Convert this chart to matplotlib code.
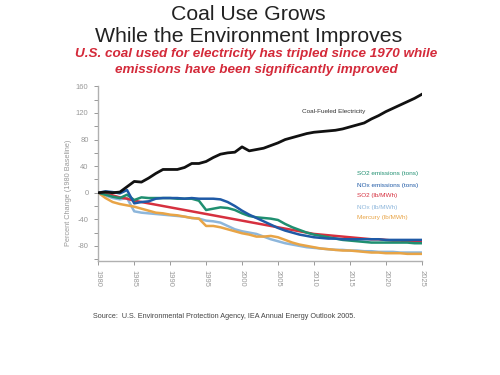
import matplotlib
matplotlib.use("Agg")
import matplotlib.pyplot as plt
from matplotlib.ticker import MultipleLocator, FuncFormatter

plt.rcParams['font.family'] = ['Liberation Sans', 'DejaVu Sans']

years = list(range(1980, 2026))

coal = [0, 1, 0, 1, 9, 17, 16, 22, 29, 35, 35, 35, 38, 44, 44, 47, 53, 58, 60, 61,
        69, 63, 65, 67, 71, 75, 80, 83, 86, 89, 91, 92, 93, 94, 96, 99, 102, 105, 111, 116,
        122, 127, 132, 137, 142, 148]

so2_tons = [0, -3, -6, -8, -3, -11, -7, -8, -8, -8, -8, -9, -9, -9, -12, -26, -24, -22, -23, -26,
            -31, -35, -37, -38, -39, -41, -47, -52, -56, -60, -63, -65, -67, -69, -71, -72, -73, -74, -75, -75,
            -75, -75, -75, -75, -76, -76]

nox_tons = [0, 2, 1, -1, 4, -16, -14, -13, -9, -8, -8, -8, -9, -8, -9, -9, -9, -10, -14, -20,
            -27, -33, -38, -43, -48, -53, -57, -60, -63, -65, -67, -68, -69, -69, -70, -70, -70, -70, -70, -70,
            -71, -71, -71, -71, -71, -71]

so2_rate = [0, -2, -4, -7, -9, -12, -14, -16, -18, -20, -22, -24, -26, -28, -30, -32, -34, -36, -38, -40,
            -42, -44, -46, -48, -50, -52, -54, -56, -58, -60, -62, -63, -64, -65, -66, -67, -68, -69, -70, -70,
            -71, -72, -72, -73, -73, -74]

nox_rate = [0, -4, -8, -10, -8, -28, -30, -31, -32, -33, -34, -35, -36, -38, -39, -42, -43, -45, -50, -55,
            -58, -60, -62, -66, -70, -73, -76, -78, -80, -82, -83, -84, -85, -86, -86, -87, -87, -88, -88, -89,
            -89, -89, -90, -90, -90, -90]

mercury_rate = [0, -8, -14, -17, -19, -21, -24, -27, -30, -31, -33, -34, -36, -38, -39, -50, -50, -52, -55, -58,
                -61, -63, -66, -66, -65, -67, -71, -75, -78, -80, -82, -84, -85, -86, -87, -87, -88, -89, -90, -90,
                -91, -91, -91, -92, -92, -92]

series_labels = ["SO2 emissions (tons)", "NOx emissions (tons)", "SO2 (lb/MWh)",
                 "NOx (lb/MWh)", "Mercury (lb/MWh)"]
series_values = [so2_tons, nox_tons, so2_rate, nox_rate, mercury_rate]
series_colors = ["#1f8f70", "#1f5aa6", "#d6303f", "#8db6db", "#e8a446"]

x_ticks = list(range(1980, 2030, 5))
y_labeled = [160, 120, 80, 40, 0, -40, -80]

fig = plt.figure(figsize=(5, 3.75), dpi=100)
ax = fig.add_axes([0.1966, 0.3053, 0.6468, 0.4643])

draw_order = [3, 4, 2, 0, 1]
for i in draw_order:
    ax.plot(years, series_values[i], color=series_colors[i], lw=1.8, solid_joinstyle='round', zorder=2)
ax.plot(years, coal, color="#111111", lw=2.0, solid_joinstyle='round', zorder=3)

ax.set_xlim(1980, 2025)
ax.set_ylim(-102, 160)
ax.set_xticks(x_ticks)
ax.set_xticklabels([str(t) for t in x_ticks], rotation=270)
ax.yaxis.set_major_locator(MultipleLocator(20))
ax.yaxis.set_major_formatter(FuncFormatter(lambda v, p: str(int(round(v))) if int(round(v)) in y_labeled else ""))

for s in ['top', 'right']:
    ax.spines[s].set_visible(False)
for s in ['left', 'bottom']:
    ax.spines[s].set_color('#b0b0b0')
    ax.spines[s].set_linewidth(1.0)
ax.tick_params(axis='both', colors='#999999', labelsize=5.5, length=3, width=0.7, pad=4)
ax.tick_params(axis='x', pad=4)

ax.text(2017.1, 122, "Coal-Fueled Electricity", transform=ax.transData, fontsize=4.6,
        color='#333333', ha='right', va='center')

legend_y = [174, 185, 196, 207, 218]
for lab, col, yy in zip(series_labels, series_colors, legend_y):
    fig.text(357 / 500, 1 - yy / 375, lab, fontsize=4.6, color=col, ha='left', va='center')

fig.text(68 / 500, 1 - 193 / 375, "Percent Change (1980 Baseline)", rotation=90, fontsize=5.3,
         color='#999999', ha='center', va='center')

fig.text(0.497, 1 - 14 / 375, "Coal Use Grows", fontsize=15.3, color='#222222', ha='center', va='center')
fig.text(0.497, 1 - 37 / 375, "While the Environment Improves", fontsize=15.3, color='#222222',
         ha='center', va='center')
fig.text(0.512, 1 - 54.5 / 375, "U.S. coal used for electricity has tripled since 1970 while",
         fontsize=9.7, color='#d42a3a', ha='center', va='center', fontweight='bold', fontstyle='italic')
fig.text(0.512, 1 - 70.5 / 375, "emissions have been significantly improved",
         fontsize=9.7, color='#d42a3a', ha='center', va='center', fontweight='bold', fontstyle='italic')

fig.text(93 / 500, 1 - 317 / 375,
         "Source:  U.S. Environmental Protection Agency, IEA Annual Energy Outlook 2005.",
         fontsize=5.2, color='#444444', ha='left', va='center')

fig.savefig("out.png", dpi=100)
